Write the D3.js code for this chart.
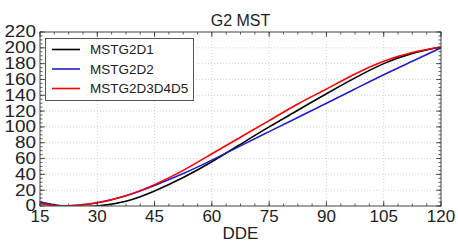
<!DOCTYPE html>
<html>
<head>
<meta charset="utf-8">
<script src="https://cdn.jsdelivr.net/npm/d3@7"></script>
<style>
  body { margin: 0; background: #fff; }
  svg { display: block; font-family: "Liberation Sans", Arial, sans-serif; }
</style>
</head>
<body>
<svg id="chart" width="458" height="243"></svg>
<script>
// data
const dde = [15, 20, 25, 30, 37.5, 45, 52.5, 60, 67.5, 75, 82.5, 90, 97.5, 105, 112.5, 120];
const mstD1 = [5, 0.5, -0.5, 0, 6, 19, 36, 56, 78, 100, 121, 142, 162, 180, 193, 201];
const mstD2 = [5, 0, 1, 4, 13, 26, 41, 58, 76, 94, 112, 130, 148, 166, 183, 200];
const mstD345 = [3, 0, 1, 4, 13, 27, 45, 66, 87, 108, 129, 148, 167, 183, 194, 201];
const seriesNames = ["MSTG2D1", "MSTG2D2", "MSTG2D3D4D5"];
const seriesColors = ["#000000", "#1f1fc8", "#ff0000"];
const xTicks = [15, 30, 45, 60, 75, 90, 105, 120];
const yTicks = d3.range(0, 221, 20);

const pLeft = 40, pRight = 441, pTop = 32, pBottom = 206;

const svg = d3.select("#chart");

const x = d3.scaleLinear().domain([15, 120]).range([pLeft, pRight]);
const y = d3.scaleLinear().domain([0, 220]).range([pBottom, pTop]);

// grid
const grid = svg.append("g").attr("stroke", "#c8c8c8").attr("stroke-dasharray", "1,2").attr("stroke-width", 0.8);
grid.selectAll(".gx").data(xTicks.slice(1, -1)).join("line")
  .attr("x1", d => x(d)).attr("x2", d => x(d)).attr("y1", pTop).attr("y2", pBottom);
grid.selectAll(".gy").data(yTicks.slice(1, -1)).join("line")
  .attr("y1", d => y(d)).attr("y2", d => y(d)).attr("x1", pLeft).attr("x2", pRight);

// lines
svg.append("clipPath").attr("id", "clip")
  .append("rect").attr("x", pLeft).attr("y", pTop).attr("width", pRight - pLeft).attr("height", pBottom - pTop);

const allSeries = [mstD1, mstD2, mstD345];
const line = d3.line()
  .x((d, i) => x(dde[i]))
  .y(d => y(d))
  .curve(d3.curveNatural);

svg.append("g").attr("clip-path", "url(#clip)")
  .selectAll("path").data(allSeries).join("path")
  .attr("d", line)
  .attr("fill", "none")
  .attr("stroke", (d, i) => seriesColors[i])
  .attr("stroke-width", 1.6);

// axes with inward ticks (major + minor)
const xMinor = d3.range(15, 120.01, 3.75);
const yMinor = d3.range(0, 220.01, 5);

function tickLines(g, vals, len, horizontal) {
  vals.forEach(v => {
    if (horizontal) {
      g.append("line").attr("x1", x(v)).attr("x2", x(v)).attr("y1", pBottom).attr("y2", pBottom - len);
      g.append("line").attr("x1", x(v)).attr("x2", x(v)).attr("y1", pTop).attr("y2", pTop + len);
    } else {
      g.append("line").attr("y1", y(v)).attr("y2", y(v)).attr("x1", pLeft).attr("x2", pLeft + len);
      g.append("line").attr("y1", y(v)).attr("y2", y(v)).attr("x1", pRight).attr("x2", pRight - len);
    }
  });
}
const ticks = svg.append("g").attr("stroke", "#333").attr("stroke-width", 0.8);
tickLines(ticks, xTicks, 5, true);
tickLines(ticks, xMinor, 2.5, true);
tickLines(ticks, yTicks, 5, false);
tickLines(ticks, yMinor, 2.5, false);

svg.append("rect").attr("x", pLeft).attr("y", pTop).attr("width", pRight - pLeft).attr("height", pBottom - pTop)
  .attr("fill", "none").attr("stroke", "#444").attr("stroke-width", 1);

// tick labels
svg.append("g").selectAll("text").data(xTicks).join("text")
  .attr("x", d => x(d)).attr("y", 222)
  .attr("text-anchor", "middle").attr("font-size", 17).attr("fill", "#222")
  .text(d => d);

svg.append("g").selectAll("text").data(yTicks).join("text")
  .attr("x", 36).attr("y", d => y(d)).attr("dy", "0.34em")
  .attr("text-anchor", "end").attr("font-size", 16).attr("fill", "#222")
  .attr("textLength", d => String(d).length * 10.5).attr("lengthAdjust", "spacingAndGlyphs")
  .text(d => d);

// titles
svg.append("text").attr("x", (pLeft + pRight) / 2).attr("y", 26)
  .attr("text-anchor", "middle").attr("font-size", 16).attr("fill", "#222").text("G2 MST");
svg.append("text").attr("x", (pLeft + pRight) / 2).attr("y", 239)
  .attr("text-anchor", "middle").attr("font-size", 17).attr("fill", "#222").text("DDE");

// legend
const leg = svg.append("g");
leg.append("rect").attr("x", 45.5).attr("y", 38.5).attr("width", 148).attr("height", 62)
  .attr("fill", "#fff").attr("stroke", "#555").attr("stroke-width", 1);
seriesNames.forEach((name, i) => {
  const yy = 49.5 + i * 19.5;
  leg.append("line").attr("x1", 52).attr("x2", 80).attr("y1", yy).attr("y2", yy)
    .attr("stroke", seriesColors[i]).attr("stroke-width", 1.6);
  leg.append("text").attr("x", 90).attr("y", yy).attr("dy", "0.36em")
    .attr("font-size", 13.5).attr("fill", "#222").text(name);
});
</script>
</body>
</html>
